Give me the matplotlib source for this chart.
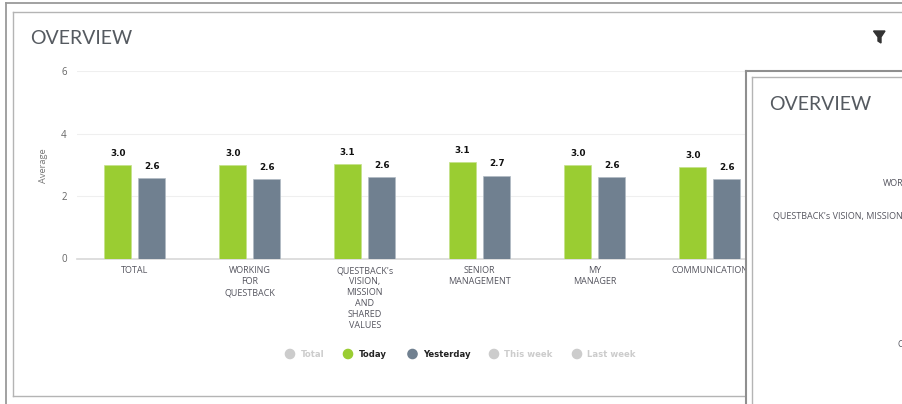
import matplotlib
matplotlib.use("Agg")
import matplotlib.pyplot as plt
from matplotlib.patches import Rectangle, Circle, Polygon

W, H = 903, 404
categories = ["TOTAL", "WORKING\nFOR\nQUESTBACK", "QUESTBACK's\nVISION,\nMISSION\nAND\nSHARED\nVALUES",
              "SENIOR\nMANAGEMENT", "MY\nMANAGER", "COMMUNICATION"]
today = [2.98, 2.98, 3.03, 3.08, 3.0, 2.93]
yesterday = [2.57, 2.55, 2.6, 2.65, 2.6, 2.55]
today_labels = ["3.0", "3.0", "3.1", "3.1", "3.0", "3.0"]
yesterday_labels = ["2.6", "2.6", "2.6", "2.7", "2.6", "2.6"]
legend_items = ["Total", "Today", "Yesterday", "This week", "Last week"]
legend_active = [False, True, True, False, False]
yticks = [0, 2, 4, 6]
GREEN, SLATE = "#9acd32", "#708090"
FONT = "Open Sans"

plt.rcParams["font.family"] = [FONT, "DejaVu Sans"]
fig = plt.figure(figsize=(W / 100, H / 100), dpi=100, facecolor="white")

def fx(x): return x / W
def fy(y): return 1 - y / H

def frame(x0, y0, x1, y1, color, lw, z):
    fig.add_artist(plt.Line2D([fx(x0), fx(x0)], [fy(y0), fy(y1)], color=color, lw=lw, zorder=z))
    fig.add_artist(plt.Line2D([fx(x0), fx(x1)], [fy(y0), fy(y0)], color=color, lw=lw, zorder=z))

# main plot axes
L, R, T, B = 77.2, 903.0, 71.0, 258.5
ax = fig.add_axes([fx(L), fy(B), (R - L) / W, (B - T) / H], zorder=2)
ax.set_xlim(-0.5, -0.5 + (R - L) / 115)
ax.set_ylim(0, 6)
pos = list(range(len(categories)))
w = 26.5 / 115
off = 17 / 115
b1 = ax.bar([p - off for p in pos], today, w, color=GREEN, edgecolor="#c4e28a", linewidth=0.5, zorder=3)
b2 = ax.bar([p + off for p in pos], yesterday, w, color=SLATE, edgecolor="#b0bac4", linewidth=0.5, zorder=3)
for bars, labs in ((b1, today_labels), (b2, yesterday_labels)):
    for r, s in zip(bars, labs):
        ax.annotate(s, (r.get_x() + r.get_width() / 2, r.get_height()), xytext=(0, 5.2),
                    textcoords="offset points", ha="center", va="bottom", family="DejaVu Sans",
                    fontsize=6.3, fontweight="bold", color="#111111", zorder=4)
for s in ax.spines.values():
    s.set_visible(False)
ax.spines["bottom"].set_visible(True)
ax.spines["bottom"].set_color("#d8d8d8")
ax.spines["bottom"].set_linewidth(1.2)
ax.set_yticks(yticks)
ax.set_xticks(pos)
ax.set_xticklabels(categories, fontsize=6.45, color="#55555f", linespacing=1.29)
ax.tick_params(axis="both", length=0)
ax.tick_params(axis="x", pad=5.6)
ax.tick_params(axis="y", labelsize=7, labelcolor="#666666", pad=7.5)
ax.grid(axis="y", color="#efefef", lw=0.8, zorder=0)
ax.set_axisbelow(True)
ax.set_ylabel("Average", fontsize=6.7, color="#777777")
ax.yaxis.set_label_coords((48 - L) / (R - L), (B - 166) / (B - T))

# outer frames of the main panel
frame(6.5, 3, 903, 404, "#9a9a9a", 1.3, 1)
frame(13.5, 11.5, 903, 395.5, "#b4b4b4", 1.0, 1)
fig.add_artist(plt.Line2D([fx(13.5), fx(746)], [fy(395.5), fy(395.5)], color="#b4b4b4", lw=1.0, zorder=1))

fig.text(fx(30), fy(38.5), "OVERVIEW", fontsize=14, color="#555a60", va="center", ha="left", family="Lato", zorder=3)

# funnel icon
fig.add_artist(Polygon([(fx(873.5), fy(31)), (fx(885), fy(31)), (fx(881), fy(37)), (fx(881), fy(43)),
                        (fx(878), fy(41)), (fx(878), fy(37))], closed=True, transform=fig.transFigure,
                       color="#333333", zorder=3))

# legend
legend_x = [290, 348, 412.5, 494, 577]
for x, name, on in zip(legend_x, legend_items, legend_active):
    col = "#cccccc"
    if name == "Today": col = GREEN
    if name == "Yesterday": col = SLATE
    fig.add_artist(Circle((x, H - 354), 4.6, transform=None, color=col, zorder=3))
    fig.text(fx(x + 10.5), fy(354.5), name, fontsize=6.1, fontweight="bold", family="DejaVu Sans",
             color="#222222" if on else "#cccccc", va="center", ha="left", zorder=3)

# overlapping panel
fig.add_artist(Rectangle((fx(746), 0), 1 - fx(746), fy(70), transform=fig.transFigure,
                         facecolor="white", edgecolor="none", zorder=5))
frame(746.5, 70.5, 903, 404, "#8f8f8f", 1.5, 6)
frame(752.5, 76.5, 903, 404, "#b4b4b4", 1.0, 6)
fig.text(fx(769), fy(104), "OVERVIEW", fontsize=14, color="#555a60", va="center", ha="left", family="Lato", zorder=7)
overlay_texts = [(903, 183.5, "WOR"), (903, 216, "QUESTBACK's VISION, MISSION"), (903, 344.5, "C")]
for x, y, s in overlay_texts:
    fig.text(fx(x), fy(y), s, fontsize=6.45, color="#55555f", va="center", ha="right", zorder=7)

fig.savefig("out.png", dpi=100)
